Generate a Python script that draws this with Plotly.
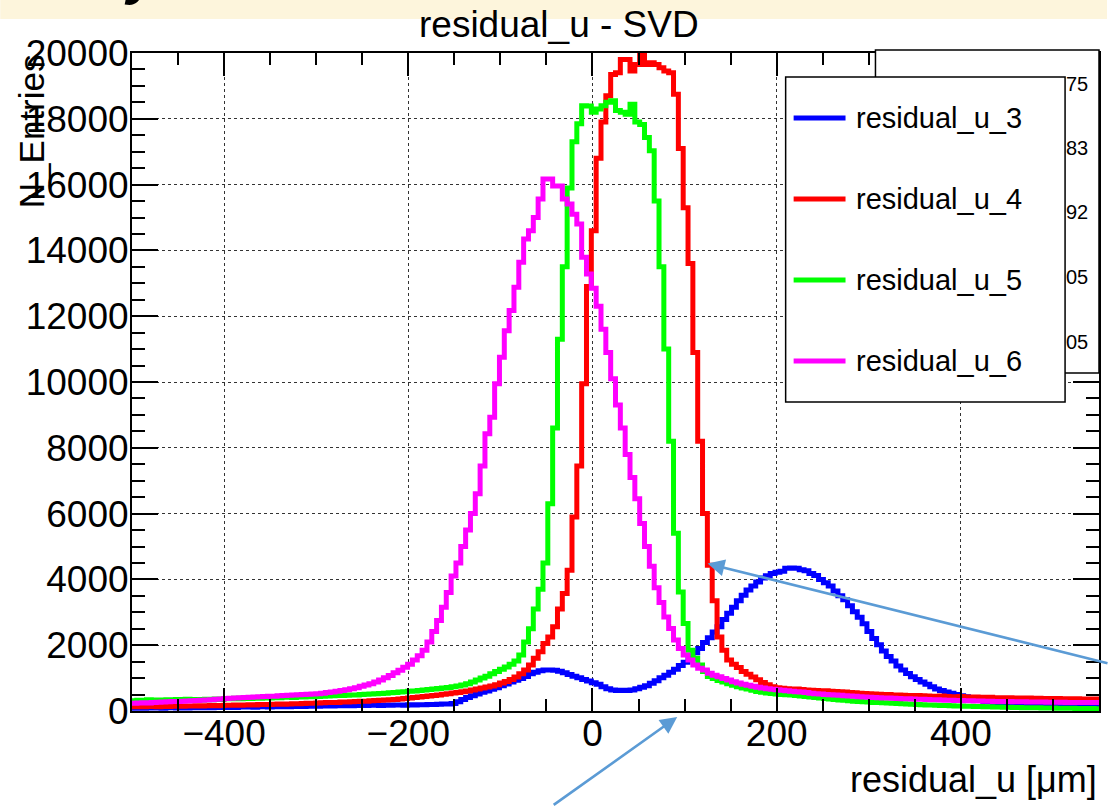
import numpy as np
import plotly.graph_objects as go

# Histogram binning of residual_u (μm)
X_MIN, X_MAX = -500, 550
N_BINS = 200

# Bin contents, 200 bins from -500 to 550 μm
RESIDUAL_U_3 = [
    85, 90, 80, 95, 88, 92, 85, 100, 95, 90, 98, 92, 105, 100, 96, 110, 102, 108, 112, 105,
    115, 110, 120, 118, 125, 115, 128, 130, 122, 135, 130, 138, 132, 140, 145, 138, 150, 148, 142, 155,
    160, 152, 165, 158, 170, 162, 168, 175, 170, 172, 178, 170, 182, 176, 180, 185, 178, 188, 182, 190,
    192, 195, 200, 205, 210, 215, 225, 280, 350, 410, 460, 520, 570, 610, 660, 710, 765, 820, 880, 935,
    990, 1050, 1130, 1180, 1220, 1245, 1250, 1235, 1205, 1160, 1110, 1060, 1010, 960, 910, 860, 810, 735, 675, 640,
    620, 630, 625, 640, 680, 720, 770, 840, 920, 1010, 1090, 1180, 1270, 1380, 1480, 1600, 1770, 1900, 2080, 2230,
    2400, 2560, 2780, 2970, 3150, 3350, 3520, 3680, 3800, 3920, 4040, 4110, 4180, 4220, 4250, 4340, 4350, 4340, 4290, 4260,
    4180, 4120, 4000, 3900, 3800, 3650, 3500, 3380, 3200, 3020, 2850, 2650, 2420, 2200, 2010, 1820, 1660, 1520, 1370, 1250,
    1140, 1040, 960, 880, 810, 740, 670, 620, 580, 540, 500, 460, 430, 390, 350, 320, 290, 270, 250, 230,
    215, 200, 190, 180, 172, 165, 158, 150, 148, 140, 138, 132, 130, 126, 122, 120, 118, 115, 112, 110,
]

RESIDUAL_U_4 = [
    130, 135, 128, 140, 138, 132, 145, 140, 150, 142, 148, 155, 150, 158, 152, 160, 165, 158, 170, 175,
    172, 180, 178, 185, 190, 186, 195, 200, 196, 205, 210, 206, 215, 220, 218, 228, 232, 238, 245, 250,
    255, 262, 258, 270, 275, 282, 288, 295, 300, 310, 318, 325, 335, 345, 352, 365, 378, 395, 410, 425,
    440, 455, 470, 490, 510, 525, 545, 565, 585, 610, 640, 665, 700, 730, 760, 800, 850, 900, 960, 1030,
    1130, 1250, 1400, 1600, 1800, 2050, 2250, 2560, 3100, 3570, 4280, 5900, 7450, 9950, 12900, 14600, 16800, 17900, 18700, 19350,
    19400, 19800, 19800, 19450, 19650, 19980, 19650, 19700, 19650, 19550, 19450, 19400, 18750, 17100, 15300, 13600, 10900, 8200, 6000, 4430,
    3350, 2250, 1850, 1550, 1420, 1320, 1200, 1120, 1030, 950, 870, 800, 740, 710, 690, 680, 665, 670, 650, 640,
    630, 625, 610, 615, 600, 590, 585, 575, 560, 555, 540, 530, 525, 520, 510, 500, 505, 490, 485, 480,
    470, 465, 472, 460, 455, 450, 448, 455, 440, 436, 430, 438, 425, 420, 428, 415, 410, 418, 405, 400,
    395, 402, 390, 396, 385, 392, 380, 388, 376, 382, 370, 378, 366, 372, 365, 370, 360, 368, 362, 365,
]

RESIDUAL_U_5 = [
    310, 330, 305, 340, 320, 335, 315, 345, 330, 350, 325, 355, 340, 348, 335, 360, 345, 365, 350, 370,
    372, 385, 375, 392, 380, 398, 390, 405, 395, 410, 402, 415, 420, 412, 428, 425, 435, 430, 442, 450,
    455, 462, 470, 468, 480, 490, 488, 500, 510, 515, 525, 535, 540, 552, 560, 575, 585, 598, 610, 625,
    640, 655, 670, 685, 700, 715, 735, 760, 790, 830, 880, 940, 1000, 1060, 1130, 1200, 1270, 1340, 1420, 1520,
    1700, 2100, 2500, 3100, 3700, 4500, 6300, 8600, 11300, 13500, 15900, 17300, 17850, 18400, 18390, 18200, 18300, 18400, 18500, 18550,
    18250, 18200, 18140, 18440, 17900, 17830, 17430, 17030, 15500, 13500, 11000, 8200, 5400, 3620, 2660, 1850, 1600, 1400, 1200, 1050,
    990, 930, 880, 830, 780, 740, 700, 665, 630, 595, 570, 550, 535, 520, 505, 495, 485, 470, 455, 440,
    425, 410, 395, 380, 365, 350, 338, 325, 312, 300, 285, 278, 270, 262, 255, 248, 240, 232, 225, 218,
    210, 205, 198, 192, 186, 180, 175, 170, 165, 160, 155, 150, 146, 142, 138, 134, 130, 126, 122, 118,
    115, 112, 108, 105, 102, 100, 98, 95, 92, 90, 88, 86, 84, 82, 80, 78, 76, 75, 74, 72,
]

RESIDUAL_U_6 = [
    235, 240, 250, 245, 260, 265, 270, 278, 285, 290, 300, 305, 315, 320, 330, 338, 345, 355, 365, 380,
    390, 395, 402, 410, 415, 422, 430, 438, 445, 452, 460, 468, 475, 485, 492, 500, 510, 518, 528, 540,
    560, 580, 600, 620, 645, 680, 710, 750, 790, 830, 880, 940, 1010, 1080, 1160, 1240, 1330, 1420, 1550, 1680,
    1850, 2100, 2420, 2750, 3150, 3600, 4100, 4500, 5000, 5500, 6000, 6600, 7450, 8430, 8930, 9950, 10750, 11560, 12170, 12880,
    13640, 14350, 14600, 15000, 15560, 16170, 16170, 15960, 15960, 15560, 15410, 15100, 14800, 13790, 13280, 12850, 12300, 11600, 10900, 10100,
    9300, 8600, 7800, 7100, 6450, 5700, 5000, 4400, 3750, 3300, 2860, 2510, 2155, 1900, 1700, 1550, 1400, 1300, 1244, 1150,
    1090, 1040, 990, 940, 890, 850, 810, 780, 750, 725, 700, 680, 660, 645, 630, 615, 600, 588, 575, 565,
    540, 528, 515, 505, 495, 485, 475, 465, 455, 445, 435, 428, 420, 412, 405, 398, 392, 385, 380, 375,
    370, 365, 360, 355, 350, 345, 340, 335, 330, 326, 322, 318, 314, 310, 306, 302, 298, 295, 292, 290,
    288, 285, 282, 280, 278, 276, 274, 272, 270, 268, 266, 265, 264, 262, 262, 260, 260, 258, 258, 256,
]

SERIES_NAMES = ["residual_u_3", "residual_u_4", "residual_u_5", "residual_u_6"]
SERIES_COUNTS = [RESIDUAL_U_3, RESIDUAL_U_4, RESIDUAL_U_5, RESIDUAL_U_6]
SERIES_COLORS = ["#0000ff", "#ff0000", "#00ff00", "#ff00ff"]

# Stats-box values that peek out from behind the legend
STATS_FRAGMENTS = ["75", "83", "92", "05", "05"]

# ---- canvas geometry (pixels) ----
W, H = 1109, 806
L, R, T, B = 132, 8, 53, 95
PW, PH = W - L - R, H - T - B
FONT = "Liberation Sans, Arial, sans-serif"


def fx(p):
    """page x pixel -> paper coordinate"""
    return (p - L) / PW


def fy(p):
    """page y pixel (from top) -> paper coordinate"""
    return (H - B - p) / PH


edges = np.linspace(X_MIN, X_MAX, N_BINS + 1)

fig = go.Figure()
for name, counts, color in zip(SERIES_NAMES, SERIES_COUNTS, SERIES_COLORS):
    fig.add_trace(go.Scatter(
        x=edges,
        y=list(counts) + [counts[-1]],
        mode="lines",
        name=name,
        line=dict(color=color, width=5, shape="hv"),
        showlegend=False,
        hoverinfo="skip",
    ))

axis_common = dict(
    showline=True, linecolor="#000", linewidth=2, mirror="ticks",
    ticks="inside", tickcolor="#000", tickwidth=2,
    showgrid=True, gridcolor="#333", gridwidth=1, griddash="3px,3px",
    zeroline=False,
    tickfont=dict(family=FONT, size=37, color="#000"),
)

fig.update_xaxes(
    range=[X_MIN, X_MAX], tick0=0, dtick=200, ticklen=23, ticklabelstandoff=-11,
    minor=dict(dtick=50, ticklen=12, ticks="inside", tickcolor="#000", tickwidth=2, showgrid=False),
    **axis_common,
)
fig.update_yaxes(
    range=[0, 20000], tick0=0, dtick=2000, ticklen=26, tickformat="d", ticklabelstandoff=-6,
    minor=dict(dtick=500, ticklen=13, ticks="inside", tickcolor="#000", tickwidth=2, showgrid=False),
    **axis_common,
)

shapes = [
    # slide strip along the top
    dict(type="rect", xref="paper", yref="paper", x0=fx(0), x1=fx(W), y0=fy(19), y1=fy(0),
         fillcolor="#fdf5dc", line=dict(width=0), layer="above"),
    # stats box (mostly hidden)
    dict(type="rect", xref="paper", yref="paper", x0=fx(877), x1=fx(1101), y0=fy(373), y1=fy(50),
         fillcolor="#fff", line=dict(color="#000", width=1.5), layer="above"),
    # legend box
    dict(type="rect", xref="paper", yref="paper", x0=fx(787), x1=fx(1067), y0=fy(402), y1=fy(77),
         fillcolor="#fff", line=dict(color="#000", width=1.5), layer="above"),
]

annotations = [
    dict(text="residual_u - SVD", x=fx(560), y=fy(25), xref="paper", yref="paper",
         xanchor="center", yanchor="middle", showarrow=False,
         font=dict(family=FONT, size=37, color="#000")),
    dict(text="N_Entries", x=fx(31), y=fy(131), xref="paper", yref="paper", textangle=-90,
         xanchor="center", yanchor="middle", showarrow=False,
         font=dict(family=FONT, size=35, color="#000")),
    dict(text="residual_u [μm]", x=fx(1101), y=fy(779), xref="paper", yref="paper",
         xanchor="right", yanchor="middle", showarrow=False,
         font=dict(family=FONT, size=36, color="#000")),
    dict(text="y", x=fx(143), y=fy(7), xref="paper", yref="paper",
         xanchor="center", yanchor="bottom", showarrow=False,
         font=dict(family=FONT, size=56, color="#000", weight="bold", style="italic")),
]

# legend entries
legend_rows = [118, 199, 280, 361]
for name, color, row in zip(SERIES_NAMES, SERIES_COLORS, legend_rows):
    shapes.append(dict(type="line", xref="paper", yref="paper", x0=fx(795), x1=fx(847),
                       y0=fy(row), y1=fy(row), line=dict(color=color, width=5), layer="above"))
    annotations.append(dict(text=name, x=fx(855), y=fy(row), xref="paper", yref="paper",
                            xanchor="left", yanchor="middle", showarrow=False,
                            font=dict(family=FONT, size=29, color="#000")))

stats_rows = [84, 148, 212, 277, 342]
for txt, row in zip(STATS_FRAGMENTS, stats_rows):
    annotations.append(dict(text=txt, x=fx(1092), y=fy(row), xref="paper", yref="paper",
                            xanchor="right", yanchor="middle", showarrow=False,
                            font=dict(family=FONT, size=20, color="#000")))

# pointer arrows
ARROW = "#5b9bd5"
annotations.append(dict(x=125, y=4480, xref="x", yref="y", text="", showarrow=True,
                        ax=410, ay=100, axref="pixel", ayref="pixel",
                        arrowhead=2, arrowsize=1.3, arrowwidth=2.6, arrowcolor=ARROW, standoff=0))
annotations.append(dict(x=92, y=fy(717), xref="x", yref="paper", text="", showarrow=True,
                        ax=-125, ay=95, axref="pixel", ayref="pixel",
                        arrowhead=2, arrowsize=1.3, arrowwidth=2.6, arrowcolor=ARROW, standoff=0))

fig.update_layout(
    width=W, height=H,
    margin=dict(l=L, r=R, t=T, b=B),
    paper_bgcolor="#fff", plot_bgcolor="#fff",
    showlegend=False,
    shapes=shapes,
    annotations=annotations,
)

fig.write_html("out.html")
